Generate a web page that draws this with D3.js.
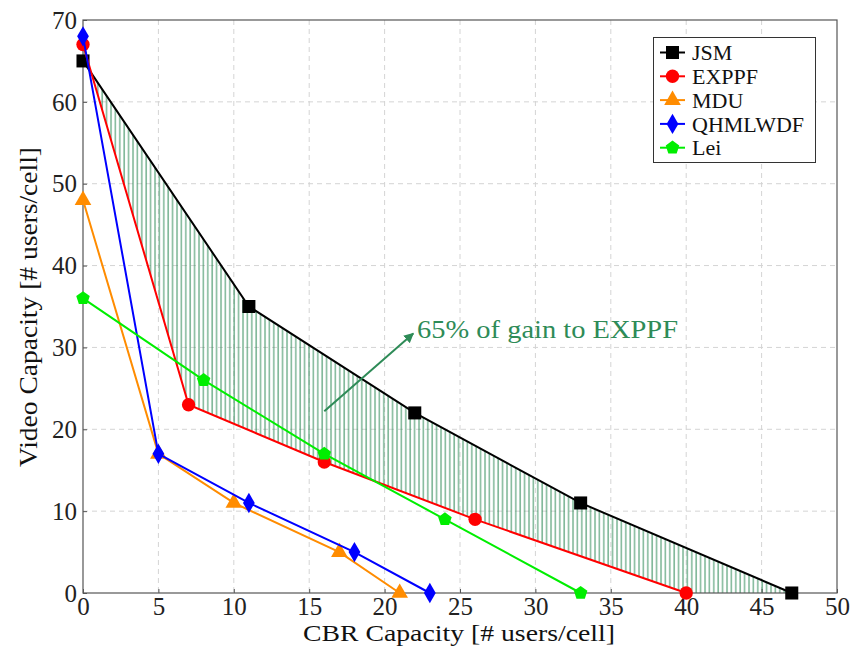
<!DOCTYPE html>
<html>
<head>
<meta charset="utf-8">
<script src="https://cdn.jsdelivr.net/npm/d3@7"></script>
<style>
  body { margin: 0; background: #fff; }
  svg { display: block; }
</style>
</head>
<body>
<svg id="chart" width="851" height="647"></svg>
<script>
// Capacity region data: CBR users (x) vs video users (y) per scheduler
const seriesNames = ["JSM", "EXPPF", "MDU", "QHMLWDF", "Lei"];
const jsmX = [0, 11, 22, 33, 47];
const jsmY = [65, 35, 22, 11, 0];
const expX = [0, 7, 16, 26, 40];
const expY = [67, 23, 16, 9, 0];
const mduX = [0, 5, 10, 17, 21];
const mduY = [48, 17, 11, 5, 0];
const qhmX = [0, 5, 11, 18, 23];
const qhmY = [68, 17, 11, 5, 0];
const leiX = [0, 8, 16, 24, 33];
const leiY = [36, 26, 17, 9, 0];
const xTicks = [0, 5, 10, 15, 20, 25, 30, 35, 40, 45, 50];
const yTicks = [0, 10, 20, 30, 40, 50, 60, 70];
const gainLabel = "65% of gain to EXPPF";

const FONT = "'Liberation Serif', 'Times New Roman', Times, serif";
const svg = d3.select("#chart");
const pL = 83, pR = 837, pT = 20, pB = 593;
const x = d3.scaleLinear().domain([0, 50]).range([pL, pR]);
const y = d3.scaleLinear().domain([0, 70]).range([pB, pT]);

const zip = (xs, ys) => xs.map((v, i) => [v, ys[i]]);
const colors = ["#000000", "#ff0000", "#ff8c00", "#0000ff", "#00ee00"];
const symbols = [d3.symbolSquare, d3.symbolCircle, d3.symbolTriangle, d3.symbolDiamond, "pentagon"];
const sizes = [170, 140, 120, 120, 120];
const xs = [jsmX, expX, mduX, qhmX, leiX];
const ys = [jsmY, expY, mduY, qhmY, leiY];
const series = seriesNames.map((name, i) => ({
  name, pts: zip(xs[i], ys[i]), color: colors[i], sym: symbols[i], size: sizes[i]
}));

// Pentagon symbol
const pentagon = {
  draw(ctx, size) {
    const r = Math.sqrt(size / 2.378);
    for (let i = 0; i < 5; i++) {
      const a = -Math.PI / 2 + i * 2 * Math.PI / 5;
      const px = r * Math.cos(a), py = r * Math.sin(a);
      if (i === 0) ctx.moveTo(px, py); else ctx.lineTo(px, py);
    }
    ctx.closePath();
  }
};
function symPath(s, size) {
  const t = s === "pentagon" ? pentagon : s;
  return d3.symbol().type(t).size(size)();
}

// Grid
const grid = svg.append("g").attr("stroke", "#d4d4d4").attr("stroke-dasharray", "5,4").attr("stroke-width", 1);
xTicks.slice(1, -1).forEach(t => grid.append("line").attr("x1", x(t)).attr("x2", x(t)).attr("y1", pT).attr("y2", pB));
yTicks.slice(1, -1).forEach(t => grid.append("line").attr("y1", y(t)).attr("y2", y(t)).attr("x1", pL).attr("x2", pR));

// Hatched gain region between JSM and EXPPF
const defs = svg.append("defs");
const pat = defs.append("pattern").attr("id", "vhatch").attr("patternUnits", "userSpaceOnUse")
  .attr("width", 4.4).attr("height", 10);
pat.append("line").attr("x1", 1).attr("x2", 1).attr("y1", 0).attr("y2", 10)
  .attr("stroke", "#2e8b57").attr("stroke-opacity", 0.6).attr("stroke-width", 1.6);
const regionPts = series[0].pts.concat(series[1].pts.slice().reverse());
svg.append("path")
  .attr("d", d3.line().x(d => x(d[0])).y(d => y(d[1]))(regionPts) + "Z")
  .attr("fill", "url(#vhatch)").attr("stroke", "none");

// Axes frame
const axisColor = "#555";
svg.append("rect").attr("x", pL).attr("y", pT).attr("width", pR - pL).attr("height", pB - pT)
  .attr("fill", "none").attr("stroke", axisColor).attr("stroke-width", 1.2);
const xAxis = svg.append("g").attr("transform", `translate(0,${pB})`)
  .call(d3.axisBottom(x).tickValues(xTicks).tickSizeInner(-4).tickSizeOuter(0));
const yAxis = svg.append("g").attr("transform", `translate(${pL},0)`)
  .call(d3.axisLeft(y).tickValues(yTicks).tickSizeInner(-4).tickSizeOuter(0));
[xAxis, yAxis].forEach(g => {
  g.attr("font-family", FONT);
  g.select(".domain").remove();
  g.selectAll("line").attr("stroke", axisColor);
  g.selectAll("text").attr("font-size", 25).attr("fill", "#222").style("font-family", FONT);
});
xAxis.selectAll("text").attr("y", 22).attr("dy", null);
yAxis.selectAll("text").attr("x", -6).attr("dy", "0.33em");

// Series lines and markers
const line = d3.line().x(d => x(d[0])).y(d => y(d[1]));
series.forEach(s => {
  svg.append("path").attr("d", line(s.pts)).attr("fill", "none")
    .attr("stroke", s.color).attr("stroke-width", 2);
  svg.append("g").selectAll("path").data(s.pts).join("path")
    .attr("transform", d => `translate(${x(d[0])},${y(d[1])})`)
    .attr("d", symPath(s.sym, s.size)).attr("fill", s.color);
});

// Gain annotation arrow
const annoColor = "#2e8b57";
defs.append("marker").attr("id", "arrowhead").attr("viewBox", "0 0 10 10").attr("refX", 9).attr("refY", 5)
  .attr("markerWidth", 5).attr("markerHeight", 5).attr("orient", "auto")
  .append("path").attr("d", "M0,0 L10,5 L0,10 Z").attr("fill", annoColor);
svg.append("line")
  .attr("x1", x(16)).attr("y1", y(22.2)).attr("x2", x(21.9)).attr("y2", y(31.7))
  .attr("stroke", annoColor).attr("stroke-width", 2).attr("marker-end", "url(#arrowhead)");
svg.append("text").attr("x", 417).attr("y", 338).attr("fill", annoColor).style("font-family", FONT)
  .attr("font-size", 26).attr("textLength", 261).attr("lengthAdjust", "spacingAndGlyphs").text(gainLabel);

// Axis titles
svg.append("text").attr("x", 303).attr("y", 641).style("font-family", FONT)
  .attr("font-size", 23).attr("fill", "#111").attr("textLength", 312).attr("lengthAdjust", "spacingAndGlyphs")
  .text("CBR Capacity [# users/cell]");
svg.append("text").attr("transform", `translate(37,467) rotate(-90)`).style("font-family", FONT)
  .attr("font-size", 25).attr("fill", "#111").attr("textLength", 320).attr("lengthAdjust", "spacingAndGlyphs")
  .text("Video Capacity [# users/cell]");

// Legend
const lg = svg.append("g");
lg.append("rect").attr("x", 653.5).attr("y", 37.5).attr("width", 162).attr("height", 125)
  .attr("fill", "#fff").attr("stroke", "#333").attr("stroke-width", 1);
series.forEach((s, i) => {
  const cy = 52.5 + i * 23.8;
  lg.append("line").attr("x1", 660).attr("x2", 685).attr("y1", cy).attr("y2", cy)
    .attr("stroke", s.color).attr("stroke-width", 2);
  lg.append("path").attr("transform", `translate(672.5,${cy})`).attr("d", symPath(s.sym, s.size)).attr("fill", s.color);
  lg.append("text").attr("x", 692).attr("y", cy).attr("dy", "0.35em").attr("font-size", 22)
    .style("font-family", FONT).attr("fill", "#111").text(s.name);
});
</script>
</body>
</html>
